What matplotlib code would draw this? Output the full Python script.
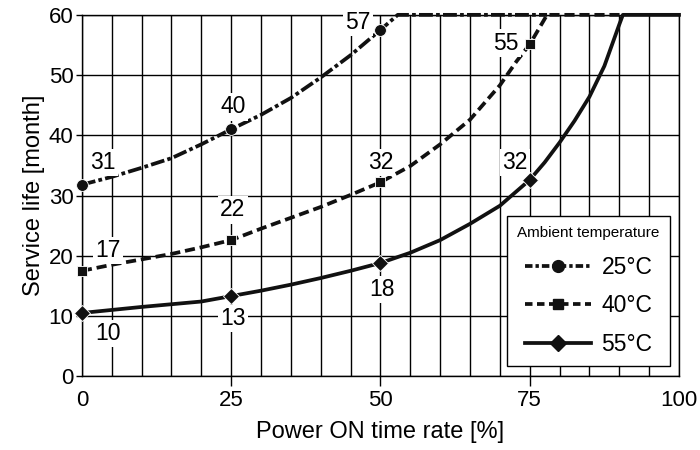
import matplotlib
matplotlib.use("Agg")
import matplotlib.pyplot as plt
from matplotlib.lines import Line2D

plt.rcParams['font.family'] = ['Liberation Sans', 'DejaVu Sans']

# Curve samples
x_25 = [0, 5, 10, 15, 20, 25, 30, 35, 40, 45, 50, 52.9, 77.9]
y_25 = [31.8, 33.1, 34.6, 36.2, 38.5, 41.0, 43.4, 46.2, 49.6, 53.3, 57.5, 60, 60]

x_40 = [0, 5, 10, 15, 20, 25, 30, 35, 40, 45, 50, 55, 60, 65, 70, 72.8, 75, 77.9, 90.6]
y_40 = [17.5, 18.5, 19.4, 20.3, 21.4, 22.6, 24.5, 26.3, 28.1, 30.1, 32.2, 34.9, 38.5, 42.6, 48.3, 52.3, 55.1, 60, 60]

x_55 = [0, 10, 20, 25, 30, 35, 40, 45, 50, 55, 60, 65, 70, 75, 77.5, 80, 82.5, 85, 87.5, 90, 90.6, 100]
y_55 = [10.5, 11.5, 12.4, 13.3, 14.2, 15.2, 16.3, 17.5, 18.8, 20.5, 22.6, 25.3, 28.3, 32.6, 35.5, 38.8, 42.4, 46.4, 51.5, 58.4, 60, 60]

# Marked points
mx_25 = [0, 25, 50]
my_25 = [31.8, 41.0, 57.5]
mx_40 = [0, 25, 50, 75]
my_40 = [17.5, 22.6, 32.2, 55.1]
mx_55 = [0, 25, 50, 75]
my_55 = [10.5, 13.3, 18.8, 32.6]

labels_25 = ["31", "40", "57"]
labels_40 = ["17", "22", "32", "55"]
labels_55 = ["10", "13", "18", "32"]

legend_title = "Ambient temperature"
legend_labels = ["25°C", "40°C", "55°C"]
xticks = [0, 25, 50, 75, 100]
yticks = [0, 10, 20, 30, 40, 50, 60]
xlabel = "Power ON time rate [%]"
ylabel = "Service life [month]"

fig = plt.figure(figsize=(7, 4.5), dpi=100)
ax = fig.add_axes([0.117, 0.164, 0.853, 0.803])

ax.set_xlim(0, 100)
ax.set_ylim(0, 60)
ax.set_xticks(xticks)
ax.set_yticks(yticks)
ax.set_xticks(list(range(0, 101, 5)), minor=True)
ax.grid(True, which='major', color='black', linewidth=1.0)
ax.grid(True, which='minor', axis='x', color='black', linewidth=1.0)
ax.set_axisbelow(True)
ax.tick_params(axis='x', which='minor', length=0)
ax.tick_params(axis='x', which='major', length=7, width=1.0, labelsize=16, pad=3)
ax.tick_params(axis='y', which='major', length=4, width=1.0, labelsize=16, pad=2)
xt = ax.xaxis.get_major_ticks()
xt[0].tick1line.set_visible(False)
xt[-1].tick1line.set_visible(False)
for s in ax.spines.values():
    s.set_linewidth(1.0)

lw = 2.7
col = '#111111'
dash_25 = (0, (3.7, 0.85, 1.0, 0.85))
dash_40 = (0, (2.7, 1.3))

ax.plot(x_55, y_55, color=col, lw=lw, linestyle='-', clip_on=False, zorder=3)
ax.plot(x_40, y_40, color=col, lw=lw, linestyle=dash_40, clip_on=False, zorder=3)
ax.plot(x_25, y_25, color=col, lw=lw, linestyle=dash_25, clip_on=False, zorder=3)

ax.plot(mx_25, my_25, 'o', color=col, ms=8.5, clip_on=False, zorder=5, markeredgecolor='white', mew=0.6)
ax.plot(mx_40, my_40, 's', color=col, ms=7, clip_on=False, zorder=5, markeredgecolor='white', mew=0.6)
ax.plot(mx_55, my_55, 'D', color=col, ms=8, clip_on=False, zorder=5, markeredgecolor='white', mew=0.6)

bb = dict(boxstyle='square,pad=0.1', fc='white', ec='none')
pos_25 = [(3.5, 35.5), (25.3, 44.7), (46.2, 58.8)]
pos_40 = [(4.3, 20.9), (25.3, 27.6), (50.0, 35.5), (71.0, 55.3)]
pos_55 = [(4.3, 7.1), (25.3, 9.6), (50.2, 14.4), (72.5, 35.5)]
for labs, poss in ((labels_25, pos_25), (labels_40, pos_40), (labels_55, pos_55)):
    for t, (px, py) in zip(labs, poss):
        ax.text(px, py, t, fontsize=16.5, ha='center', va='center', bbox=bb, zorder=4)

ax.set_xlabel(xlabel, fontsize=17, labelpad=7)
ax.set_ylabel(ylabel, fontsize=17, labelpad=3)

handles = [
    Line2D([], [], color=col, lw=lw, linestyle=(0, (2.0, 0.8, 0.9, 0.8)), marker='o', ms=8.5),
    Line2D([], [], color=col, lw=lw, linestyle=(0, (2.0, 1.2)), marker='s', ms=7),
    Line2D([], [], color=col, lw=lw, linestyle='-', marker='D', ms=8),
]
leg = ax.legend(handles, legend_labels, title=legend_title, loc='lower right',
                bbox_to_anchor=(0.985, 0.028), borderaxespad=0, fontsize=16.5, title_fontsize=11,
                handlelength=2.9, handletextpad=0.45, numpoints=1, frameon=True,
                fancybox=False, edgecolor='black', framealpha=1, borderpad=0.45,
                labelspacing=0.68)
leg.get_frame().set_linewidth(1.0)
leg.set_zorder(10)

fig.savefig("out.png", dpi=100)
